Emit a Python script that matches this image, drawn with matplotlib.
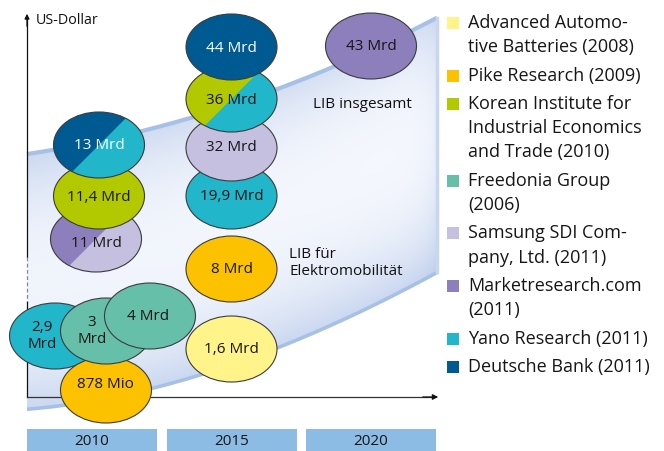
import numpy as np
import matplotlib
matplotlib.use("Agg")
import matplotlib.pyplot as plt
from matplotlib.patches import Ellipse, Polygon, Rectangle, FancyArrowPatch

plt.rcParams['font.family'] = ['Open Sans', 'DejaVu Sans']

# ---------------- data ----------------
sources = ["Advanced Automo-\ntive Batteries (2008)",
           "Pike Research (2009)",
           "Korean Institute for\nIndustrial Economics\nand Trade (2010)",
           "Freedonia Group\n(2006)",
           "Samsung SDI Com-\npany, Ltd. (2011)",
           "Marketresearch.com\n(2011)",
           "Yano Research (2011)",
           "Deutsche Bank (2011)"]
source_colors = ["#fff38a", "#fcc200", "#b2c900", "#66bfa9",
                 "#c5c0df", "#8c7fbb", "#21b6c9", "#005a92"]

# estimates: label, year, primary source idx, secondary source idx (None = single)
est_labels = ["11 Mrd", "11,4 Mrd", "13 Mrd",
              "19,9 Mrd", "32 Mrd", "36 Mrd", "44 Mrd",
              "8 Mrd", "1,6 Mrd",
              "43 Mrd",
              "2,9\nMrd", "878 Mio", "3\nMrd", "4 Mrd"]
est_years = [2010, 2010, 2010,
             2015, 2015, 2015, 2015,
             2015, 2015,
             2020,
             2010, 2010, 2010, 2010]
est_src_a = [5, 2, 7, 6, 4, 2, 7, 1, 0, 5, 6, 1, 3, 3]
est_src_b = [4, None, 6, None, None, 6, None, None, None, None, None, None, None, None]

year_labels = ["2010", "2015", "2020"]
axis_label = "US-Dollar"
band_labels = ["LIB insgesamt", "LIB für\nElektromobilität"]

# ---------------- layout (pixels) ----------------
W, H = 664, 452
fig = plt.figure(figsize=(W / 100, H / 100), dpi=100)
ax = fig.add_axes([0, 0, 1, 1])
ax.set_xlim(0, W)
ax.set_ylim(H, 0)
ax.axis('off')

def xmap(year):
    return 92 + (year - 2010) * 27.9

# per-ellipse layout offsets (dx from year column, y center, label offsets)
est_dx = [4, 7, 7, 0, 0, 0, 0, 0, 0, 0, -37, 14, 14, 58]
est_y = [240, 197, 146, 197, 149, 100, 48, 270, 350, 47, 337, 391, 332, 317]
lab_dx = [0, 0, 0, 0, 0, 0, 0, 0, 0, 0, -13, -1, -14, -2]
lab_dy = [4, 1, 0, 0, -1, 0, 0, 0, 0, 0, -1, -6, -1, 0]
EW, EH = 91, 66

# ---------------- band with gradient ----------------
ux = np.array([27, 53, 145, 187, 278, 325, 417, 437])
uy = np.array([154, 152, 133, 118, 89, 72, 31, 17])
lx = np.array([27, 152, 187, 277, 347, 437])
ly = np.array([410, 391, 379, 347, 321, 273])
pu = np.polyfit(ux, uy, 3)
pl = np.polyfit(lx, ly, 3)
xs = np.linspace(27, 437, 200)
yu = np.polyval(pu, xs)
yl = np.polyval(pl, xs)

band_pts = np.vstack([np.column_stack([xs, yu]), np.column_stack([xs[::-1], yl[::-1]])])
band = Polygon(band_pts, closed=True, facecolor='none', edgecolor='none', transform=ax.transData)
ax.add_patch(band)

gx, gy = np.meshgrid(np.arange(W) + 0.5, np.arange(H) + 0.5)
gyu = np.polyval(pu, np.clip(gx, 27, 437))
gyl = np.polyval(pl, np.clip(gx, 27, 437))
t = np.clip((gyl - gy) / (gyl - gyu), 0, 1)
xn = np.clip((gx - 27) / 410, 0, 1)
f = (0.85 * (1 - t) ** 4 + 0.6 * t ** 5 + 0.22 * (1 - xn) * t ** 1.5
     + 0.25 * np.exp(-np.clip(437 - gx, 0, None) / 12))
f = np.clip(f, 0, 1)
blue = np.array([0.76, 0.82, 0.93])
white = np.array([0.975, 0.982, 0.998])
img = white[None, None, :] * (1 - f[..., None]) + blue[None, None, :] * f[..., None]
im = ax.imshow(img, extent=(0, W, H, 0), zorder=1, interpolation='bilinear')
im.set_clip_path(band)

ax.plot(xs, yu, color="#a7c1e6", lw=3.0, zorder=2, solid_capstyle='butt')
ax.plot(xs, yl, color="#a7c1e6", lw=2.6, zorder=2, solid_capstyle='butt')
ax.plot([437, 437], [yu[-1], yl[-1]], color="#c8d7ef", lw=2.5, zorder=2)

# ---------------- axes arrows ----------------
ax.plot([27, 27], [258, 18], color="#111111", lw=0.9, zorder=3)
ax.plot([27, 27], [258, 303], color="#888888", lw=0.9, ls=(0, (3, 2)), zorder=3)
ax.plot([27, 27], [303, 398], color="#111111", lw=0.9, zorder=3)
ax.add_patch(FancyArrowPatch((27, 30), (27, 12), arrowstyle='-|>', mutation_scale=7,
                             color="#111111", lw=0.9, zorder=3))
ax.plot([27, 432], [398, 398], color="#333333", lw=0.9, zorder=3)
ax.add_patch(FancyArrowPatch((420, 398), (441, 398), arrowstyle='-|>', mutation_scale=8,
                             color="#111111", lw=0.9, zorder=3))
ax.text(36, 21, axis_label, fontsize=10.3, color="#111111", va='center', ha='left', zorder=3)

# band labels
ax.text(313, 105, band_labels[0], fontsize=11, color="#111111", va='center', ha='left', zorder=3)
ax.text(289, 263, band_labels[1], fontsize=11, color="#111111", va='center', ha='left',
        linespacing=1.15, zorder=3)

# ---------------- ellipses ----------------
for i, lab in enumerate(est_labels):
    cx = xmap(est_years[i]) + est_dx[i]
    cy = est_y[i]
    z = 10 + i * 2
    ca = source_colors[est_src_a[i]]
    e = Ellipse((cx, cy), EW, EH, facecolor=ca, edgecolor='none', zorder=z, transform=ax.transData)
    ax.add_patch(e)
    if est_src_b[i] is not None:
        cb = source_colors[est_src_b[i]]
        R = 120
        half = Polygon([(cx - R, cy + R), (cx + R, cy - R), (cx + 2 * R, cy + 2 * R)],
                       closed=True, facecolor=cb, edgecolor='none', zorder=z + 0.5,
                       transform=ax.transData)
        ax.add_patch(half)
        half.set_clip_path(e)
    ax.add_patch(Ellipse((cx, cy), EW, EH, facecolor='none', edgecolor="#3c3c3c", lw=0.8,
                         zorder=z + 1))
    tc = 'white' if est_src_a[i] == 7 else "#161616"
    ax.text(cx + lab_dx[i], cy + lab_dy[i], lab, fontsize=11, color=tc, ha='center', va='center',
            zorder=z + 1.5)

# ---------------- year boxes ----------------
box_x = [27, 167, 306]
for bx, yl_ in zip(box_x, year_labels):
    ax.add_patch(Rectangle((bx, 430), 130, 22, facecolor="#8cbbe4", edgecolor='none', zorder=3))
    ax.text(bx + 65, 442, yl_, fontsize=11, color="#161616", ha='center', va='center', zorder=4)

# ---------------- legend ----------------
line_h = 24.3
gap = 4
L = 0
for k, (s, c) in enumerate(zip(sources, source_colors)):
    lines = s.split("\n")
    y0 = 23 + L * line_h + k * gap
    ax.add_patch(Rectangle((447, y0 - 5), 12, 12, facecolor=c, edgecolor='none', zorder=3))
    for j, ln in enumerate(lines):
        ax.text(468, y0 + j * line_h, ln, fontsize=13, color="#161616", ha='left', va='center',
                zorder=3)
    L += len(lines)

fig.savefig("out.png", dpi=100)
